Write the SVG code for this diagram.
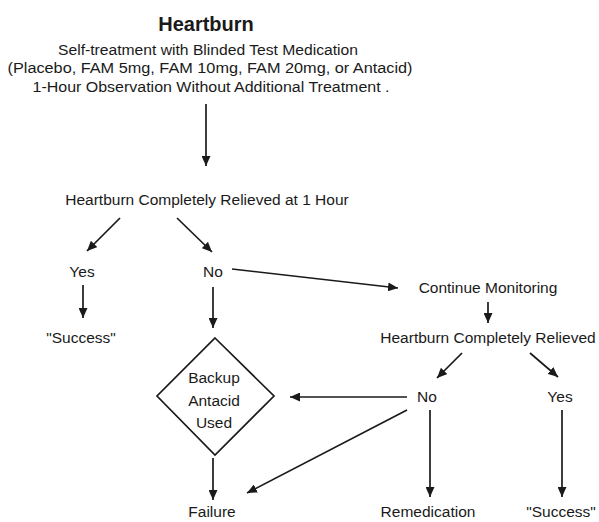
<svg xmlns="http://www.w3.org/2000/svg" width="599" height="522" viewBox="0 0 599 522">
<defs>
<style>
text{font-family:"Liberation Sans",Arial,sans-serif;font-size:15.5px;fill:#1a1a1a;text-anchor:middle}
.title{font-size:20px;font-weight:bold}
.c{stroke:#1a1a1a;stroke-width:1.7;fill:none;marker-end:url(#ah)}
.shape{stroke:#1a1a1a;stroke-width:1.7;fill:none}
</style>
<marker id="ah" markerUnits="userSpaceOnUse" markerWidth="11" markerHeight="9" refX="10" refY="4.5" orient="auto">
<path d="M0,0 L10,4.5 L0,9 z" fill="#1a1a1a"/>
</marker>
</defs>
<rect width="599" height="522" fill="#ffffff"/>
<g id="start">
<text class="title" x="206" y="31">Heartburn</text>
<text x="208" y="55" textLength="300" lengthAdjust="spacingAndGlyphs">Self-treatment with Blinded Test Medication</text>
<text x="210" y="73" textLength="405" lengthAdjust="spacingAndGlyphs">(Placebo, FAM 5mg, FAM 10mg, FAM 20mg, or Antacid)</text>
<text x="211" y="92" textLength="357" lengthAdjust="spacingAndGlyphs">1-Hour Observation Without Additional Treatment .</text>
</g>
<g id="relieved1"><text x="207" y="205">Heartburn Completely Relieved at 1 Hour</text></g>
<g id="yes1"><text x="82" y="277">Yes</text></g>
<g id="no1"><text x="213" y="277">No</text></g>
<g id="success1"><text x="81" y="343">"Success"</text></g>
<g id="continue"><text x="488" y="293">Continue Monitoring</text></g>
<g id="relieved2"><text x="488" y="343">Heartburn Completely Relieved</text></g>
<g id="no2"><text x="427" y="402">No</text></g>
<g id="yes2"><text x="560" y="402">Yes</text></g>
<g id="backup">
<polygon class="shape" points="215,338 274,396 215,455 157,396"/>
<text x="214" y="383">Backup</text>
<text x="214" y="406">Antacid</text>
<text x="214" y="428">Used</text>
</g>
<g id="failure"><text x="212" y="517">Failure</text></g>
<g id="remedication"><text x="428" y="517">Remedication</text></g>
<g id="success2"><text x="561" y="517">"Success"</text></g>
<g id="connectors">
<line class="c" x1="206" y1="104" x2="206" y2="166"/>
<line class="c" x1="120" y1="218" x2="87" y2="251"/>
<line class="c" x1="177" y1="218" x2="212" y2="252"/>
<line class="c" x1="83" y1="285" x2="83" y2="318"/>
<line class="c" x1="213" y1="287" x2="213" y2="328"/>
<line class="c" x1="232" y1="269" x2="398" y2="288"/>
<line class="c" x1="488" y1="302" x2="488" y2="323"/>
<line class="c" x1="462" y1="353" x2="437" y2="378"/>
<line class="c" x1="530" y1="353" x2="558" y2="377"/>
<line class="c" x1="407" y1="397" x2="290" y2="397"/>
<line class="c" x1="407" y1="410" x2="247" y2="493"/>
<line class="c" x1="430" y1="410" x2="430" y2="497"/>
<line class="c" x1="562" y1="410" x2="562" y2="497"/>
<line class="c" x1="213" y1="458" x2="213" y2="500"/>
</g>
</svg>
